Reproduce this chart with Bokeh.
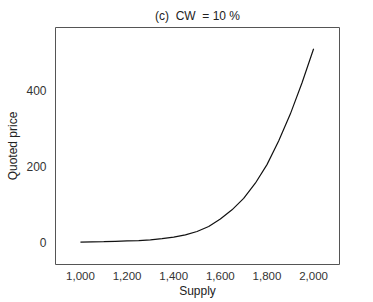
from bokeh.plotting import figure
from bokeh.models import Range1d, FixedTicker, NumeralTickFormatter
from bokeh.embed import file_html
from bokeh.resources import INLINE

supply = [1000, 1050, 1100, 1150, 1200, 1250, 1300, 1350, 1400, 1450, 1500,
          1550, 1600, 1650, 1700, 1750, 1800, 1850, 1900, 1950, 2000]
quoted_price = [1, 1.5, 2, 3, 4, 5, 7, 10, 14, 20, 29,
                42, 62, 86, 116, 156, 205, 267, 338, 420, 510]
x_ticks = [1000, 1200, 1400, 1600, 1800, 2000]
y_ticks = [0, 200, 400]

FONT = "Liberation Sans"

p = figure(width=373, height=302, output_backend="svg", toolbar_location=None,
           x_range=Range1d(893, 2111), y_range=Range1d(-58, 566),
           min_border_left=55, min_border_right=34, min_border_top=27, min_border_bottom=38)

p.title.text = "(c)\u00a0\u00a0CW\u00a0\u00a0=\u00a010\u00a0%"
p.title.align = "center"
p.title.text_font = FONT
p.title.text_font_size = "12px"
p.title.text_font_style = "normal"
p.title.text_color = "#222222"

p.line(supply, quoted_price, line_color="#111111", line_width=1.2)

p.grid.visible = False
p.outline_line_color = "#555555"
p.outline_line_width = 1

for ax in (p.xaxis, p.yaxis):
    ax.axis_line_color = None
    ax.major_tick_line_color = None
    ax.minor_tick_line_color = None
    ax.major_label_text_font = FONT
    ax.major_label_text_font_size = "11.5px"
    ax.major_label_text_color = "#333333"
    ax.axis_label_text_font = FONT
    ax.axis_label_text_font_size = "12px"
    ax.axis_label_text_font_style = "normal"
    ax.axis_label_text_color = "#222222"

p.yaxis.major_label_text_font_size = "12px"
p.xaxis.ticker = FixedTicker(ticks=x_ticks)
p.yaxis.ticker = FixedTicker(ticks=y_ticks)
p.xaxis.formatter = NumeralTickFormatter(format="0,0")
p.xaxis.axis_label = "Supply"
p.yaxis.axis_label = "Quoted price"
p.xaxis.major_label_standoff = 1
p.yaxis.major_label_standoff = 3
p.xaxis.axis_label_standoff = 1
p.yaxis.axis_label_standoff = 3

open("out.html", "w").write(file_html(p, INLINE))
